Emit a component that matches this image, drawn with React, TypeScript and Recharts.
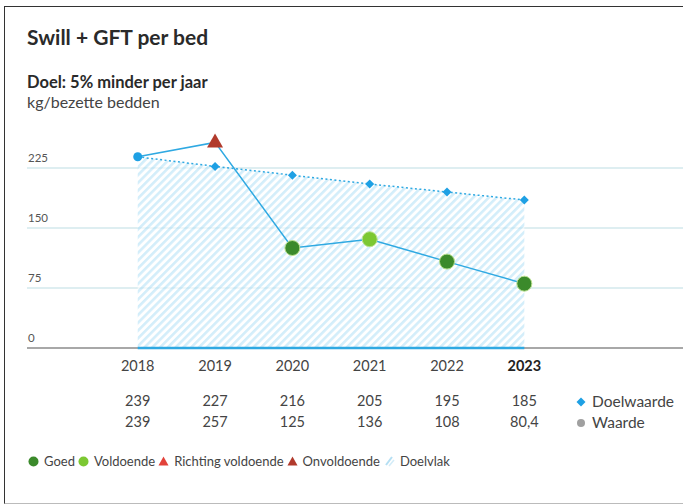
import { ComposedChart, Area, Line, XAxis, YAxis, CartesianGrid, ReferenceLine } from 'recharts'

const years = [2018, 2019, 2020, 2021, 2022, 2023]
const doelwaarde = [239, 227, 216, 205, 195, 185]
const waarde = [239, 257, 125, 136, 108, 80.4]
// score per jaar: basis = startjaar
const status = ['basis', 'onvoldoende', 'goed', 'voldoende', 'goed', 'goed']
const yTicks = [0, 75, 150, 225]

const font = 'Lato, "Noto Sans", sans-serif'
const blue = '#2fa9e2'
const colors: Record<string, string> = {
  basis: '#1ea0e4',
  goed: '#3b8a2b',
  voldoende: '#7cc832',
  richting: '#e2423a',
  onvoldoende: '#b13a2c',
}

const data = years.map((year, i) => ({
  year,
  doel: doelwaarde[i],
  waarde: waarde[i],
  status: status[i],
}))

const fmt = (v: number) => String(v).replace('.', ',')

function YTick({ x, y, payload }: any) {
  return (
    <text x={x + 1} y={y - 6} textAnchor="start" fill="#555" fontSize={11.5} fontFamily={font}>
      {payload.value}
    </text>
  )
}

function XTick({ x, y, payload }: any) {
  const i = years.indexOf(payload.value)
  const last = i === years.length - 1
  return (
    <g fontFamily={font} fill="#444" textAnchor="middle" fontSize={14.5}>
      <text x={x} y={y + 23} fontWeight={last ? 700 : 400} fill={last ? '#222' : '#444'}>
        {payload.value}
      </text>
      <text x={x} y={y + 58}>{fmt(doelwaarde[i])}</text>
      <text x={x} y={y + 79}>{fmt(waarde[i])}</text>
    </g>
  )
}

function DoelDot({ cx, cy, index }: any) {
  if (index === 0) return null
  return <path d={`M${cx},${cy - 4.5} L${cx + 4.5},${cy} L${cx},${cy + 4.5} L${cx - 4.5},${cy} Z`} fill={colors.basis} />
}

function WaardeDot({ cx, cy, payload }: any) {
  const s = payload.status
  if (s === 'basis') return <circle cx={cx} cy={cy} r={4.5} fill={colors.basis} />
  if (s === 'onvoldoende' || s === 'richting') {
    return <path d={`M${cx},${cy - 9} L${cx + 8},${cy + 5} L${cx - 8},${cy + 5} Z`} fill={colors[s]} />
  }
  return <circle cx={cx} cy={cy} r={7.5} fill={colors[s]} stroke="#b9e08f" strokeWidth={1} />
}

function Hatch({ size = 12 }: { size?: number }) {
  return (
    <svg width={size} height={size}>
      <path d={`M3,${size - 2} L${size - 3},2`} stroke="#b5dff3" strokeWidth={2} />
      <path d={`M6,${size - 1} L${size - 1},5`} stroke="#d3ecf8" strokeWidth={1.5} />
    </svg>
  )
}

function Legend() {
  const item = { display: 'flex', alignItems: 'center', gap: 5 }
  const tri = (c: string) => (
    <svg width={11} height={10}><path d="M5.5,0.5 L10.5,9.5 L0.5,9.5 Z" fill={c} /></svg>
  )
  const dot = (c: string) => (
    <svg width={11} height={11}><circle cx={5.5} cy={5.5} r={5} fill={c} /></svg>
  )
  return (
    <div style={{ position: 'absolute', left: 28, top: 453, display: 'flex', gap: 3, fontSize: 13, color: '#444', fontFamily: font }}>
      <span style={item}>{dot(colors.goed)}Goed</span>
      <span style={item}>{dot(colors.voldoende)}Voldoende</span>
      <span style={item}>{tri(colors.richting)}Richting voldoende</span>
      <span style={item}>{tri(colors.onvoldoende)}Onvoldoende</span>
      <span style={item}><Hatch />Doelvlak</span>
    </div>
  )
}

export default function App() {
  return (
    <div style={{ position: 'absolute', left: 0, top: 0, width: 683, height: 504, overflow: 'hidden', background: '#fff', fontFamily: font }}>
      <div style={{ position: 'absolute', left: 4, top: 6, width: 720, height: 496, borderTop: '1.5px solid #333', borderLeft: '1.5px solid #333', borderBottom: '1.5px solid #bbb' }} />
      <div style={{ position: 'absolute', left: 27, top: 24, fontSize: 21, fontWeight: 700, color: '#2a2a2a' }}>Swill + GFT per bed</div>
      <div style={{ position: 'absolute', left: 27, top: 72, fontSize: 16.5, fontWeight: 700, color: '#2a2a2a' }}>Doel: 5% minder per jaar</div>
      <div style={{ position: 'absolute', left: 27, top: 92, fontSize: 16, color: '#444' }}>kg/bezette bedden</div>

      <div style={{ position: 'absolute', left: 0, top: 0 }}>
        <ComposedChart width={683} height={504} data={data} margin={{ top: 108, right: 0, bottom: 56, left: 26 }}>
          <defs>
            <pattern id="hatch" patternUnits="userSpaceOnUse" width={5.5} height={5.5} patternTransform="rotate(45)">
              <rect width={5.5} height={5.5} fill="#ffffff" />
              <line x1={1.3} y1={0} x2={1.3} y2={5.5} stroke="#b6e2f7" strokeWidth={2.6} />
            </pattern>
          </defs>
          <CartesianGrid vertical={false} horizontalValues={yTicks} stroke="#d3e8ec" strokeWidth={1.5} />
          <YAxis
            type="number"
            domain={[0, 300]}
            ticks={yTicks}
            width={1}
            tickSize={0}
            tickMargin={0}
            axisLine={false}
            tickLine={false}
            tick={<YTick />}
          />
          <XAxis
            dataKey="year"
            type="number"
            domain={[2016.568, 2025.052]}
            ticks={years}
            height={100}
            tickSize={0}
            tickMargin={0}
            tickLine={false}
            axisLine={false}
            tick={<XTick />}
            allowDataOverflow
          />
          <Area dataKey="doel" type="linear" fill="url(#hatch)" stroke="none" baseValue={0} isAnimationActive={false} />
          <ReferenceLine y={0} stroke="#a8a8a8" strokeWidth={2} />
          <ReferenceLine
            segment={[{ x: years[0], y: 0 }, { x: years[years.length - 1], y: 0 }]}
            stroke={blue}
            strokeWidth={2.5}
            ifOverflow="visible"
          />
          <Line dataKey="doel" type="linear" stroke={blue} strokeWidth={1.5} strokeDasharray="2 2.5" dot={<DoelDot />} activeDot={false} isAnimationActive={false} />
          <Line dataKey="waarde" type="linear" stroke={blue} strokeWidth={1.5} dot={<WaardeDot />} activeDot={false} isAnimationActive={false} />
        </ComposedChart>
      </div>

      <div style={{ position: 'absolute', left: 576, top: 391, fontSize: 15.5, color: '#444', lineHeight: '21px' }}>
        <div style={{ display: 'flex', alignItems: 'center', gap: 6 }}>
          <svg width={10} height={10}><path d="M5,0.5 L9.5,5 L5,9.5 L0.5,5 Z" fill={colors.basis} /></svg>
          Doelwaarde
        </div>
        <div style={{ display: 'flex', alignItems: 'center', gap: 6 }}>
          <svg width={10} height={10}><circle cx={5} cy={5} r={4} fill="#a0a0a0" /></svg>
          Waarde
        </div>
      </div>
      <Legend />
    </div>
  )
}
